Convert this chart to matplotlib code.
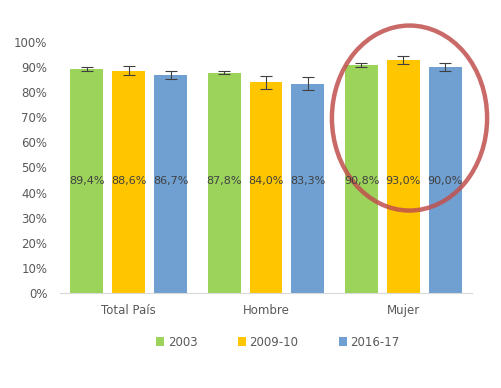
import numpy as np
import matplotlib
matplotlib.use('Agg')
import matplotlib.pyplot as plt
from matplotlib.patches import Ellipse
from matplotlib.ticker import PercentFormatter

categories = ['Total País', 'Hombre', 'Mujer']
series = ['2003', '2009-10', '2016-17']
values = {
    '2003': [89.4, 87.8, 90.8],
    '2009-10': [88.6, 84.0, 93.0],
    '2016-17': [86.7, 83.3, 90.0],
}
errors = {
    '2003': [0.8, 0.7, 0.8],
    '2009-10': [1.7, 2.6, 1.6],
    '2016-17': [1.6, 2.6, 1.7],
}
colors = ['#9BD35B', '#FFC600', '#70A0D2']

plt.rcParams['font.family'] = ['DejaVu Sans']
fig = plt.figure(figsize=(5.02, 3.88), dpi=100)
ax = fig.add_axes([60 / 502, 95 / 388, 412 / 502, 251 / 388])

x = np.arange(len(categories))
step = 0.305
width = 0.24
for i, s in enumerate(series):
    pos = x + (i - 1) * step
    ax.bar(pos, values[s], width, color=colors[i], label=s,
           yerr=errors[s], error_kw=dict(ecolor='#404040', elinewidth=0.8, capsize=4, capthick=0.8))
    for p, v in zip(pos, values[s]):
        ax.text(p, 44.5, f'{v:.1f}%'.replace('.', ','), ha='center', va='center',
                fontsize=8, color='#404040')

ax.set_xlim(-0.5, 2.5)
ax.set_ylim(0, 100)
ax.set_yticks(np.arange(0, 101, 10))
ax.yaxis.set_major_formatter(PercentFormatter(decimals=0))
ax.set_xticks(x)
ax.set_xticklabels(categories)
ax.tick_params(axis='both', length=0, labelsize=8.5, colors='#595959')
ax.tick_params(axis='y', pad=9)
ax.tick_params(axis='x', pad=8)
for sp in ['top', 'right', 'left']:
    ax.spines[sp].set_visible(False)
ax.spines['bottom'].set_color('#D9D9D9')

ell = Ellipse((2.045, 69.7), 1.13, 73.7, fill=False, edgecolor='#C0504D',
              linewidth=3.2, alpha=0.85, clip_on=False)
ax.add_patch(ell)

fig.legend(loc='center', bbox_to_anchor=(278 / 502, 1 - 342 / 388), ncol=3, frameon=False,
           fontsize=8.5, handlelength=0.7, handleheight=0.7, handletextpad=0.3,
           columnspacing=3.4, labelcolor='#595959')

fig.savefig('out.png', dpi=100)
